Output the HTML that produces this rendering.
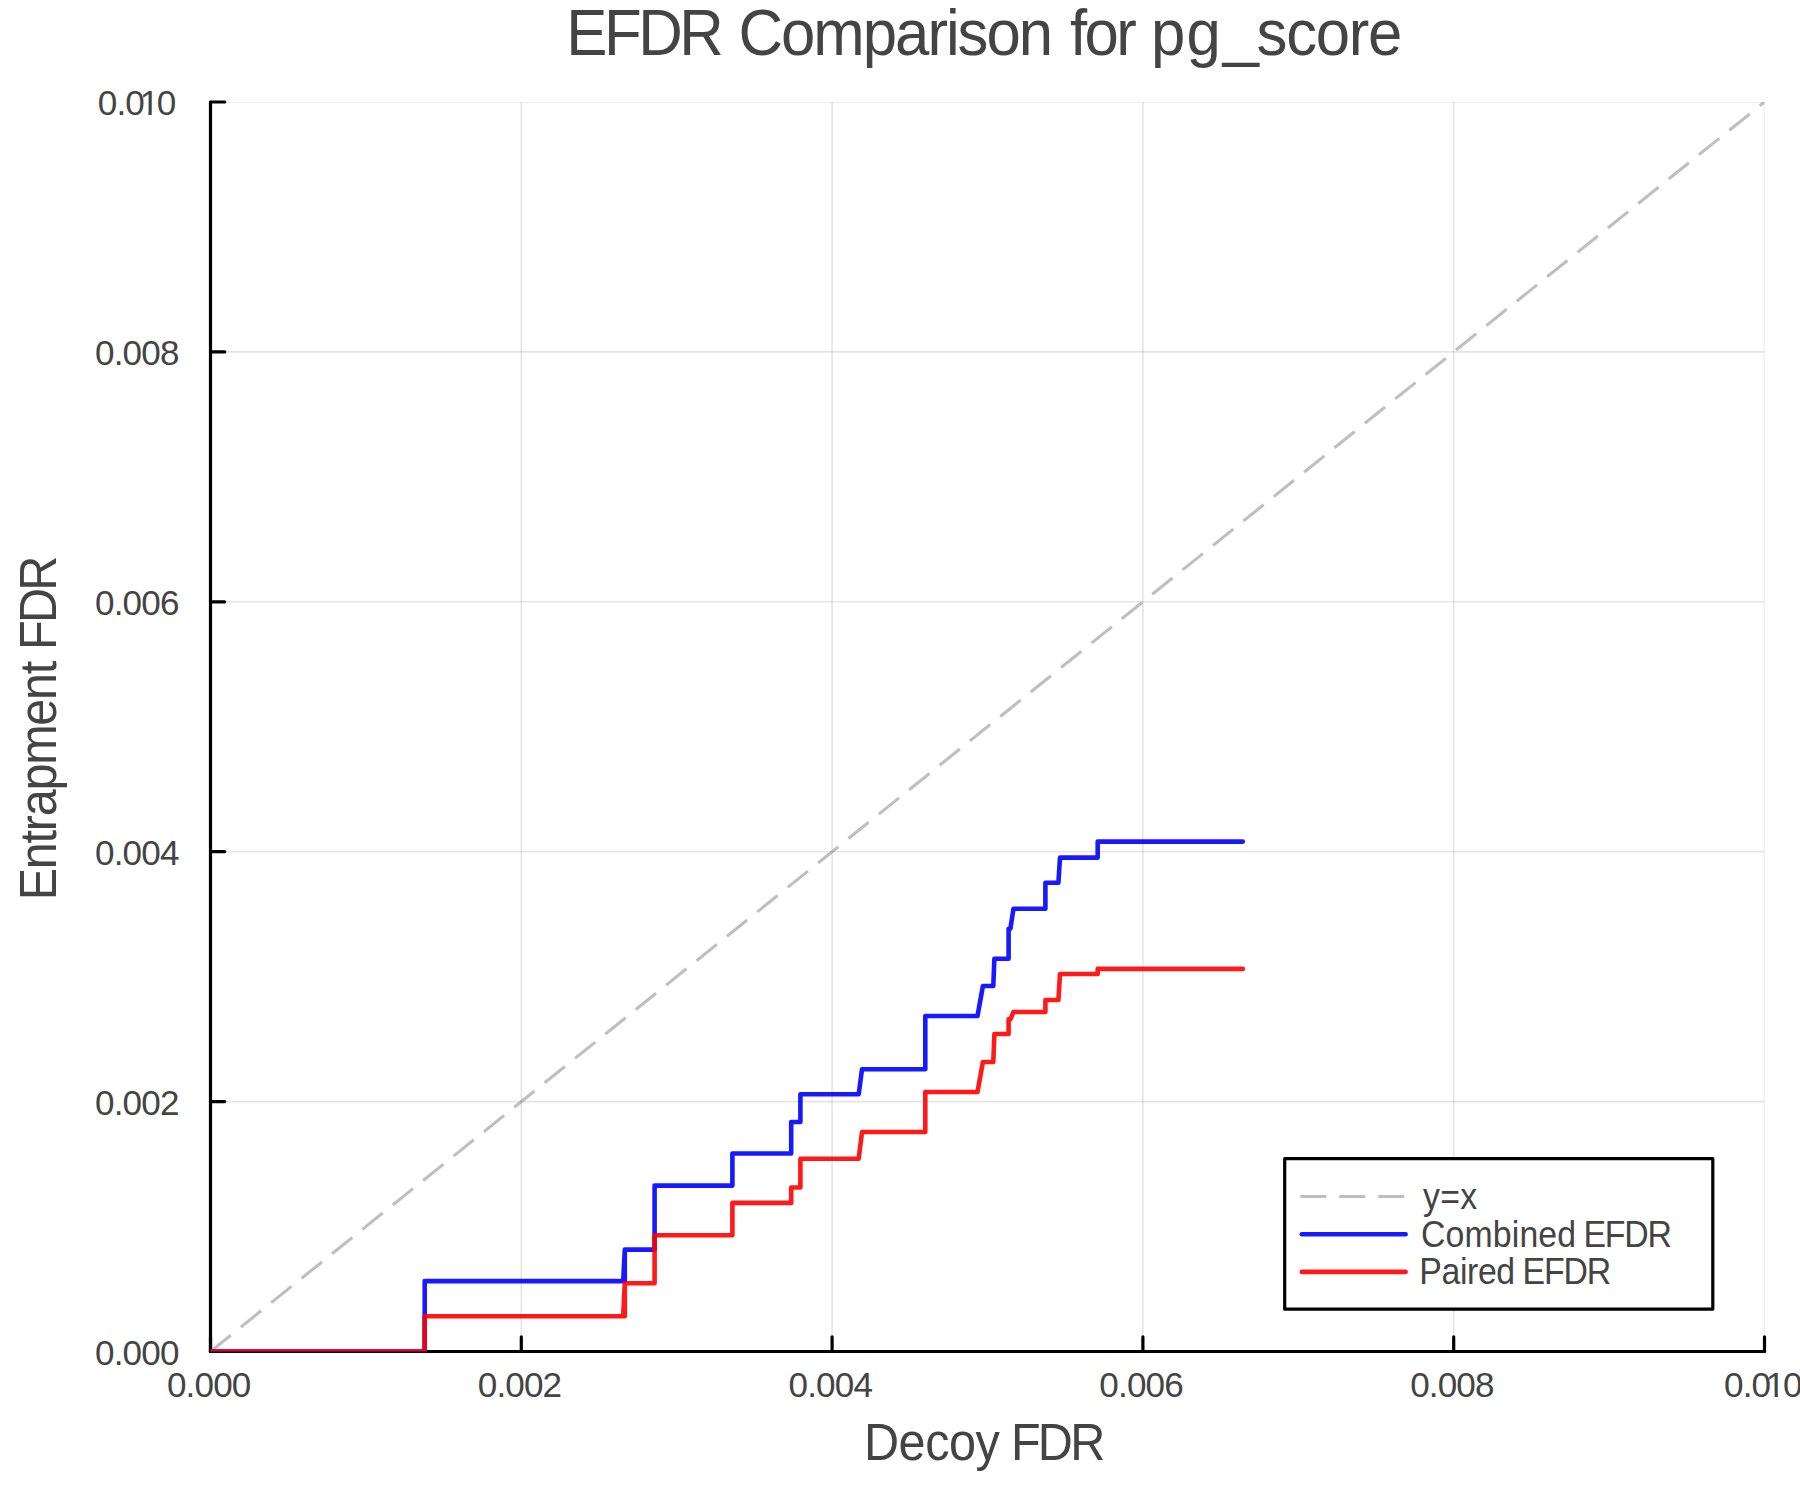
<!DOCTYPE html>
<html lang="en"><head><meta charset="utf-8"><title>EFDR Comparison for pg_score</title>
<style>html,body{margin:0;padding:0;background:#fff}body{width:1800px;height:1500px;overflow:hidden}svg{display:block}text{font-family:"Liberation Sans", sans-serif;fill:#444444}</style></head><body>
<svg width="1800" height="1500" viewBox="0 0 1800 1500">
<rect width="1800" height="1500" fill="#fff"/>
<defs><clipPath id="pa"><rect x="210.5" y="102.0" width="1554.0" height="1249.5"/></clipPath></defs>
<g stroke="#000" stroke-opacity="0.1" stroke-width="1.6" fill="none" clip-path="url(#pa)">
<line x1="521.3" y1="102.0" x2="521.3" y2="1351.5"/>
<line x1="832.1" y1="102.0" x2="832.1" y2="1351.5"/>
<line x1="1142.9" y1="102.0" x2="1142.9" y2="1351.5"/>
<line x1="1453.7" y1="102.0" x2="1453.7" y2="1351.5"/>
<line x1="1764.5" y1="102.0" x2="1764.5" y2="1351.5"/>
<line x1="210.5" y1="1101.6" x2="1764.5" y2="1101.6"/>
<line x1="210.5" y1="851.7" x2="1764.5" y2="851.7"/>
<line x1="210.5" y1="601.8" x2="1764.5" y2="601.8"/>
<line x1="210.5" y1="351.9" x2="1764.5" y2="351.9"/>
<line x1="210.5" y1="102.0" x2="1764.5" y2="102.0"/>
</g>
<g stroke="#000" stroke-width="3.2" fill="none" stroke-linecap="round">
<line x1="210.5" y1="1351.5" x2="1764.5" y2="1351.5"/>
<line x1="210.5" y1="102.0" x2="210.5" y2="1351.5"/>
<line x1="210.5" y1="1351.5" x2="210.5" y2="1336.9"/>
<line x1="210.5" y1="1351.5" x2="224.7" y2="1351.5"/>
<line x1="521.3" y1="1351.5" x2="521.3" y2="1336.9"/>
<line x1="210.5" y1="1101.6" x2="224.7" y2="1101.6"/>
<line x1="832.1" y1="1351.5" x2="832.1" y2="1336.9"/>
<line x1="210.5" y1="851.7" x2="224.7" y2="851.7"/>
<line x1="1142.9" y1="1351.5" x2="1142.9" y2="1336.9"/>
<line x1="210.5" y1="601.8" x2="224.7" y2="601.8"/>
<line x1="1453.7" y1="1351.5" x2="1453.7" y2="1336.9"/>
<line x1="210.5" y1="351.9" x2="224.7" y2="351.9"/>
<line x1="1764.5" y1="1351.5" x2="1764.5" y2="1336.9"/>
<line x1="210.5" y1="102.0" x2="224.7" y2="102.0"/>
</g>
<g clip-path="url(#pa)" fill="none">
<line x1="210.5" y1="1351.5" x2="1764.5" y2="102.0" stroke="#808080" stroke-opacity="0.5" stroke-width="3.1" stroke-dasharray="26 12.98"/>
<polyline points="210.5,1351.5 424.7,1351.5 424.7,1281.1 623.2,1281.1 624.8,1249.6 624.8,1281.1 624.8,1249.6 654.6,1249.6 654.6,1185.6 732.4,1185.6 732.4,1153.5 791.2,1153.5 791.2,1122.0 800.4,1122.0 800.4,1094.3 858.7,1094.3 862.0,1069.3 925.3,1069.3 925.3,1016.0 977.5,1016.0 982.9,986.0 993.3,986.0 994.4,958.7 1008.6,958.7 1008.6,928.7 1010.4,928.7 1013.5,908.7 1045.4,908.7 1045.4,882.8 1058.4,882.8 1060.0,857.6 1097.7,857.6 1097.7,841.6 1242.8,841.6" stroke="#0000ff" stroke-opacity="0.9" stroke-width="4.6" stroke-linejoin="round" stroke-linecap="round"/>
<polyline points="210.5,1351.5 424.7,1351.5 424.7,1316.2 623.2,1316.2 624.8,1283.3 624.8,1316.2 624.8,1283.3 654.6,1283.3 654.6,1235.2 732.4,1235.2 732.4,1202.9 791.2,1202.9 791.2,1187.5 800.4,1187.5 800.4,1158.7 858.7,1158.7 862.0,1132.0 925.3,1132.0 925.3,1092.0 977.5,1092.0 982.9,1062.0 993.3,1062.0 994.4,1034.0 1008.6,1034.0 1008.6,1019.3 1010.4,1019.3 1013.4,1012.0 1045.4,1012.0 1045.4,1000.0 1058.4,1000.0 1060.0,974.0 1097.7,974.0 1097.7,968.9 1242.8,968.9" stroke="#ff0000" stroke-opacity="0.9" stroke-width="4.6" stroke-linejoin="round" stroke-linecap="round"/>
</g>
<text transform="translate(166.95,1396.80) scale(0.9745,1)" font-size="36.0" letter-spacing="-0.88">0.000</text>
<text transform="translate(477.75,1396.80) scale(0.9745,1)" font-size="36.0" letter-spacing="-0.88">0.002</text>
<text transform="translate(788.55,1396.80) scale(0.9745,1)" font-size="36.0" letter-spacing="-0.88">0.004</text>
<text transform="translate(1099.35,1396.80) scale(0.9745,1)" font-size="36.0" letter-spacing="-0.88">0.006</text>
<text transform="translate(1410.15,1396.80) scale(0.9745,1)" font-size="36.0" letter-spacing="-0.88">0.008</text>
<text transform="translate(0,1396.80) scale(0.9745,1)" font-size="36.0" letter-spacing="-0.88"><tspan x="1769.16">0.0</tspan><tspan x="1812.08">1</tspan><tspan x="1829.66">0</tspan></text>
<rect x="1768.10" y="1393.75" width="6.53" height="3.6" fill="#fff"/><rect x="1777.90" y="1393.75" width="6.78" height="3.6" fill="#fff"/>
<text transform="translate(95.05,1364.50) scale(0.9745,1)" font-size="36.0" letter-spacing="-0.88">0.000</text>
<text transform="translate(95.05,1114.60) scale(0.9745,1)" font-size="36.0" letter-spacing="-0.88">0.002</text>
<text transform="translate(95.05,864.70) scale(0.9745,1)" font-size="36.0" letter-spacing="-0.88">0.004</text>
<text transform="translate(95.05,614.80) scale(0.9745,1)" font-size="36.0" letter-spacing="-0.88">0.006</text>
<text transform="translate(95.05,364.90) scale(0.9745,1)" font-size="36.0" letter-spacing="-0.88">0.008</text>
<text transform="translate(0,115.00) scale(0.9745,1)" font-size="36.0" letter-spacing="-0.88"><tspan x="100.41">0.0</tspan><tspan x="143.32">1</tspan><tspan x="160.90">0</tspan></text>
<rect x="141.90" y="111.95" width="6.53" height="3.6" fill="#fff"/><rect x="151.70" y="111.95" width="6.78" height="3.6" fill="#fff"/>
<text transform="translate(0.00,54.70) scale(0.95,1)" font-size="65.0"><tspan x="596.11" letter-spacing="-3.673">EFDR</tspan> <tspan x="777.32" letter-spacing="-2.118">Comparison</tspan> <tspan x="1126.37" letter-spacing="-2.800">for</tspan> <tspan x="1211.58" letter-spacing="1.250">pg</tspan><tspan x="1287.05" font-size="68.5" dy="-1.7">_</tspan><tspan x="1322.68" letter-spacing="-1.342" dy="1.7">score</tspan></text>
<text transform="translate(0.00,1459.70) scale(0.953,1)" font-size="51.0"><tspan x="906.61" letter-spacing="-0.480">Decoy</tspan> <tspan x="1060.86" letter-spacing="-2.933">FDR</tspan></text>
<text transform="translate(55.90,896.30) rotate(-90) scale(0.953,1)" font-size="51.0"><tspan x="-4.20" letter-spacing="-1.347">Entrapment</tspan> <tspan x="258.55" letter-spacing="-2.987">FDR</tspan></text>
<rect x="1284.7" y="1158.7" width="428.1" height="150.5" fill="#fff" stroke="#000" stroke-width="3.2" stroke-linejoin="round"/>
<line x1="1300.3" y1="1196.5" x2="1407.5" y2="1196.5" stroke="#808080" stroke-opacity="0.5" stroke-width="3.1" stroke-dasharray="26 12.98"/>
<line x1="1301.8" y1="1234.2" x2="1405.6" y2="1234.2" stroke="#0000ff" stroke-opacity="0.9" stroke-width="4.6" stroke-linecap="round"/>
<line x1="1301.8" y1="1271.9" x2="1405.6" y2="1271.9" stroke="#ff0000" stroke-opacity="0.9" stroke-width="4.6" stroke-linecap="round"/>
<text transform="translate(0.00,1208.90) scale(0.9146,1)" font-size="37.0"><tspan x="1555.82" letter-spacing="0.373">y=x</tspan></text>
<text transform="translate(0.00,1246.60) scale(0.9146,1)" font-size="37.0"><tspan x="1553.74" letter-spacing="0.133">Combined</tspan> <tspan x="1731.41" letter-spacing="-1.364">EFDR</tspan></text>
<text transform="translate(0.00,1283.70) scale(0.9146,1)" font-size="37.0"><tspan x="1551.88" letter-spacing="-0.433">Paired</tspan> <tspan x="1664.72" letter-spacing="-1.291">EFDR</tspan></text>
</svg></body></html>
